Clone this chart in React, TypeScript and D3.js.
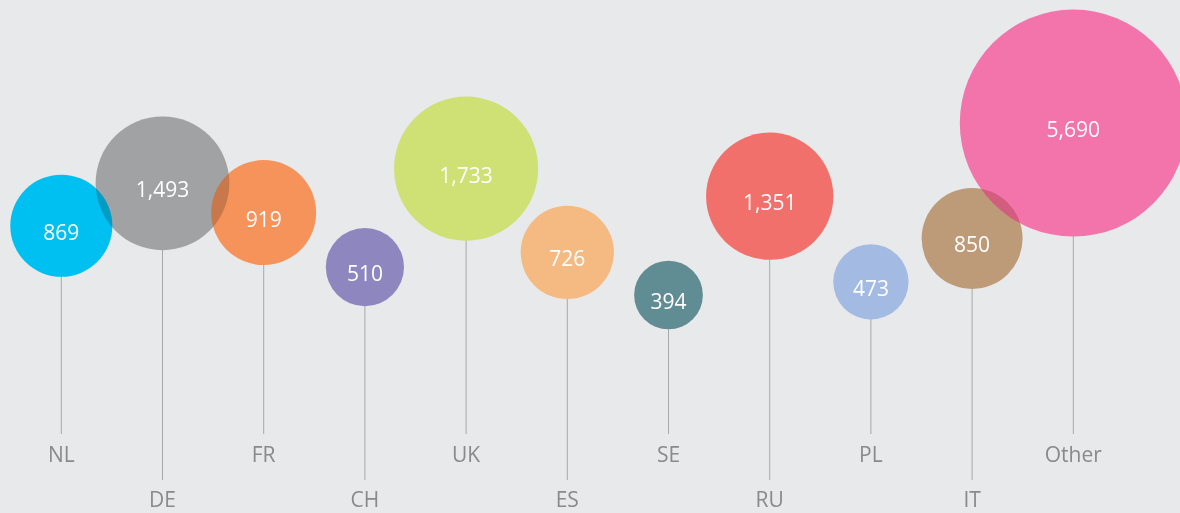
import React from "react";
import * as d3 from "d3";

const countries = ["NL", "DE", "FR", "CH", "UK", "ES", "SE", "RU", "PL", "IT", "Other"];
const values = [869, 1493, 919, 510, 1733, 726, 394, 1351, 473, 850, 5690];
// vertical level of each bubble (0 = low, 100 = high)
const levels = [47.6, 65.3, 53.1, 30.4, 71.4, 36.5, 18.75, 59.9, 24.25, 42.3, 90.4];
const colors = [
  "#00c0f1", "#a1a2a4", "#f6935a", "#8e86bf", "#cfe074", "#f5ba82",
  "#608c94", "#f2706b", "#a3bbe2", "#bd9b79", "#f374ab",
];

const W = 1180;
const H = 513;
const FONT = "'Open Sans', 'Noto Sans', sans-serif";

export default function App() {
  const x = d3.scalePoint<string>().domain(countries).range([61.3, 1073.3]);
  const y = d3.scaleLinear().domain([0, 100]).range([340, 100]);
  const r = d3.scaleSqrt().domain([0, 4300]).range([0, 113.5]).clamp(true);
  const fmt = d3.format(",");

  const nodes = countries.map((c, i) => ({
    i,
    c,
    v: values[i],
    color: colors[i],
    cx: x(c) as number,
    cy: y(levels[i]),
    r: r(values[i]),
    row: i % 2,
  }));

  const rowLabelY = [461.7, 506.7];
  const rowStemEnd = [434, 480];

  // draw second-row bubbles first, first-row bubbles on top
  const order = [...nodes].sort((a, b) => b.row - a.row || a.i - b.i);
  const rank = new Map(order.map((n, k) => [n.i, k]));

  const overlaps: { lower: typeof nodes[0]; upper: typeof nodes[0] }[] = [];
  for (let a = 0; a < order.length; a++) {
    for (let b = a + 1; b < order.length; b++) {
      const lo = order[a];
      const up = order[b];
      const d = Math.hypot(lo.cx - up.cx, lo.cy - up.cy);
      if (d < lo.r + up.r) overlaps.push({ lower: lo, upper: up });
    }
  }

  return (
    <div style={{ position: "absolute", left: 0, top: 0 }}>
      <svg width={W} height={H} style={{ display: "block" }}>
        <defs>
          {nodes.map((n) => (
            <clipPath id={`clip-${n.i}`} key={n.i}>
              <circle cx={n.cx} cy={n.cy} r={n.r} />
            </clipPath>
          ))}
        </defs>
        <rect x={0} y={0} width={W} height={H} fill="#e8e9eb" />
        <g>
          {nodes.map((n) => (
            <line
              key={n.i}
              x1={n.cx}
              x2={n.cx}
              y1={n.cy}
              y2={rowStemEnd[n.row]}
              stroke="#a9a9a9"
              strokeWidth={1}
            />
          ))}
        </g>
        <g>
          {order.map((n) => (
            <circle key={n.i} cx={n.cx} cy={n.cy} r={n.r} fill={n.color} />
          ))}
        </g>
        <g>
          {overlaps.map(({ lower, upper }) => (
            <circle
              key={`${lower.i}-${upper.i}`}
              cx={lower.cx}
              cy={lower.cy}
              r={lower.r}
              fill={lower.color}
              opacity={0.5}
              clipPath={`url(#clip-${upper.i})`}
              style={{ mixBlendMode: "multiply" }}
            />
          ))}
        </g>
        <g fontFamily={FONT} fontSize={21} fill="#ffffff" textAnchor="middle">
          {order.map((n) => (
            <text key={n.i} x={n.cx} y={n.cy + 14}>
              {fmt(n.v)}
            </text>
          ))}
        </g>
        <g fontFamily={FONT} fontSize={21} fill="#8a8a8a" textAnchor="middle">
          {nodes.map((n) => (
            <text key={n.i} x={n.cx} y={rowLabelY[n.row]}>
              {n.c}
            </text>
          ))}
        </g>
      </svg>
    </div>
  );
}
